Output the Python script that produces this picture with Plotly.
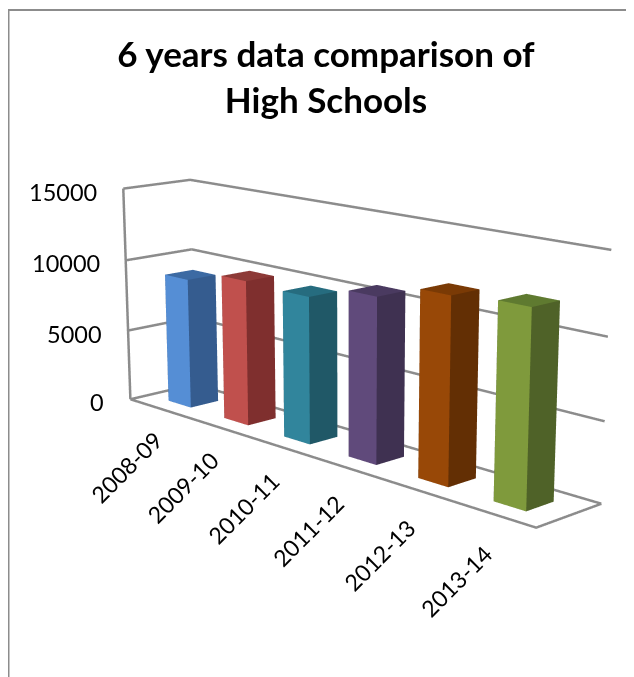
import plotly.graph_objects as go

categories = ["2008-09", "2009-10", "2010-11", "2011-12", "2012-13", "2013-14"]
values = [9060, 9870, 9760, 10720, 11740, 12020]
front_colors = ["#558ED5", "#C0504D", "#31859C", "#604A7B", "#984807", "#7F9A3C"]
side_colors = ["#355C8F", "#7F2F2E", "#205867", "#3F3151", "#632F04", "#4F6228"]
top_colors = ["#3C6AA3", "#8D3A37", "#266C7F", "#4A3A60", "#7A3A05", "#5F7A30"]
z_ticks = [0, 5000, 10000, 15000]

BAR_W = 0.2
BAR_D = 0.21
X_PAD = 0.55
GRID = "#8C8C8C"
FONT = "Lato"
ymax = 1.0
xmax = len(categories)
zmax = max(z_ticks)
step = (xmax - 2 * X_PAD) / (xmax - 1)

# A tall scene gives the long focal length of the reference; the page shows its upper part.
FIG_W, FIG_H, PAGE_SHIFT = 626, 1441, 350
def py(page_y):
    return 1 - (page_y - 8 + PAGE_SHIFT) / FIG_H
def px(page_x):
    return (page_x - 8) / FIG_W

fig = go.Figure()

I = [0, 0, 4, 4, 0, 0, 3, 3, 0, 0, 1, 1]
J = [1, 2, 5, 6, 1, 5, 2, 6, 3, 7, 2, 6]
K = [2, 3, 6, 7, 5, 4, 6, 7, 7, 4, 6, 5]

for i, v in enumerate(values):
    xc = X_PAD + i * step
    x0, x1 = xc - BAR_W, xc + BAR_W
    y0, y1 = 0.5 - BAR_D, 0.5 + BAR_D
    f, s, t = front_colors[i], side_colors[i], top_colors[i]
    fig.add_trace(go.Mesh3d(
        x=[x0, x1, x1, x0, x0, x1, x1, x0],
        y=[y0, y0, y1, y1, y0, y0, y1, y1],
        z=[0, 0, 0, 0, v, v, v, v],
        i=I, j=J, k=K,
        facecolor=[s, s, t, t, f, f, s, s, s, s, s, s],
        flatshading=True,
        lighting=dict(ambient=1, diffuse=0, specular=0, roughness=1, fresnel=0),
        hoverinfo="skip", showscale=False,
    ))

frame_x, frame_y, frame_z = [], [], []
for z in z_ticks:
    frame_x += [0, 0, xmax, None]
    frame_y += [0, ymax, ymax, None]
    frame_z += [z, z, z, None]
frame_x += [0, 0, None, 0, xmax, xmax]
frame_y += [0, 0, None, 0, 0, ymax]
frame_z += [0, zmax, None, 0, 0, 0]
fig.add_trace(go.Scatter3d(x=frame_x, y=frame_y, z=frame_z, mode="lines",
                           line=dict(color=GRID, width=5), hoverinfo="skip",
                           showlegend=False))

ann = []
for z in z_ticks:
    ann.append(dict(x=0, y=0, z=z, text=str(z), showarrow=False, xanchor="right",
                    yanchor="middle", xshift=-24, yshift=-3,
                    font=dict(family=FONT, size=23.5, color="#000")))
for i, c in enumerate(categories):
    ann.append(dict(x=X_PAD + i * step, y=0, z=0, text=c, showarrow=False, textangle=-45,
                    xanchor="center", yanchor="middle", xshift=-34, yshift=-58 - 2 * i,
                    font=dict(family=FONT, size=23, color="#000")))

axis = dict(visible=False, showgrid=False, showbackground=False, showticklabels=False,
            zeroline=False, showspikes=False)

fig.update_layout(
    width=FIG_W, height=FIG_H, autosize=False, showlegend=False,
    paper_bgcolor="white",
    margin=dict(l=0, r=0, t=0, b=0),
    title=dict(text="<b>6 years data comparison of<br>High Schools</b>", x=px(326), xanchor="center",
               y=py(67), yanchor="middle",
               font=dict(family=FONT, size=35, color="#000")),
    scene=dict(
        domain=dict(x=[0.0927, 1], y=[0, 1]),
        xaxis=dict(range=[0, xmax], **axis),
        yaxis=dict(range=[0, ymax], **axis),
        zaxis=dict(range=[0, zmax], **axis),
        aspectmode="manual",
        aspectratio=dict(x=1.014, y=0.16, z=0.408),
        camera=dict(eye=dict(x=2.103, y=-2.025, z=0.696), up=dict(x=0, y=0, z=1),
                    center=dict(x=0.024, y=-0.006, z=-0.075)),
        annotations=ann,
    ),
    shapes=[dict(type="path", xref="paper", yref="paper",
                 path=f"M {px(8.5)} {py(690)} L {px(8.5)} {py(10)} L {px(640)} {py(10)}",
                 line=dict(color=GRID, width=2))],
)
fig.write_html("out.html", post_script=(
    "document.documentElement.style.overflow='hidden';"
    "document.body.style.overflow='hidden';"
    f"document.getElementById('{{plot_id}}').style.marginTop='-{PAGE_SHIFT}px';"
))
